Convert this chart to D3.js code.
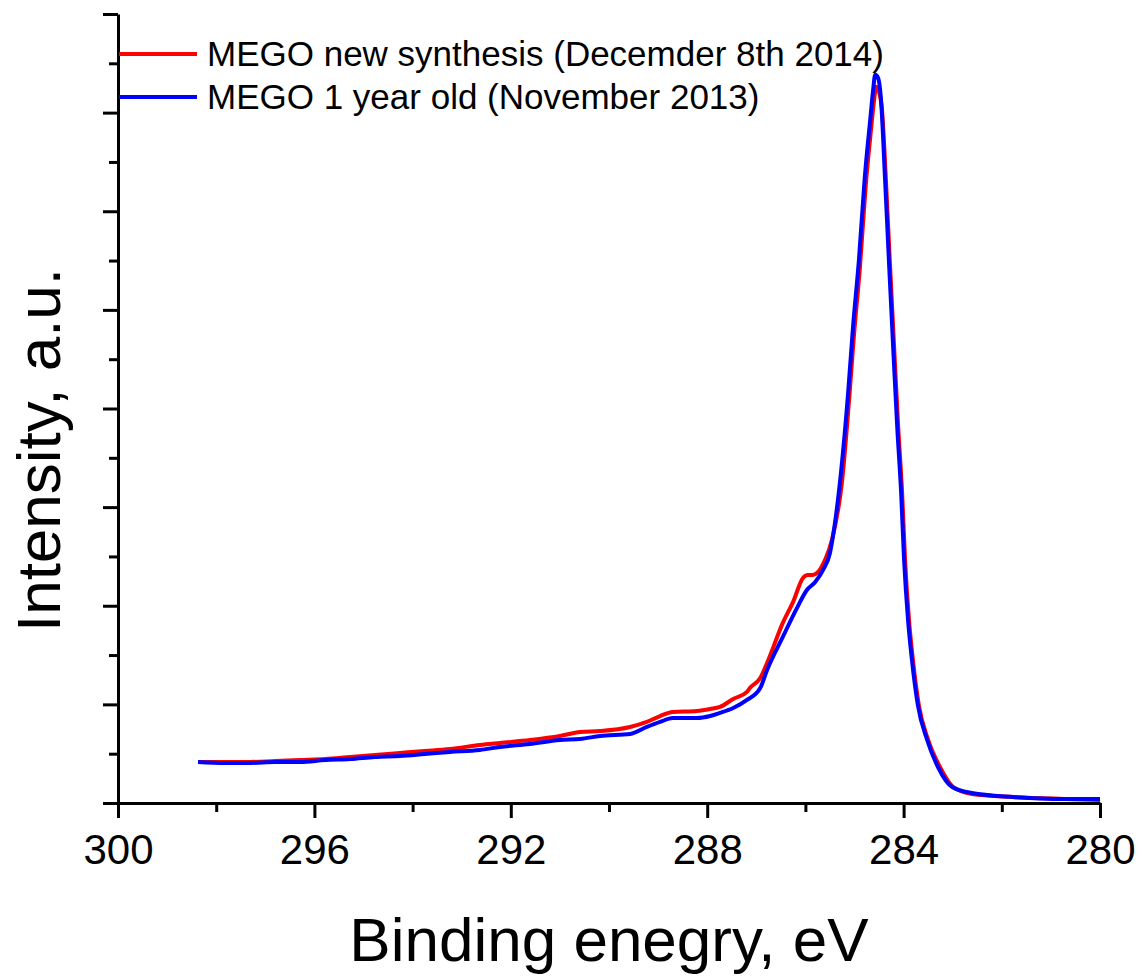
<!DOCTYPE html>
<html>
<head>
<meta charset="utf-8">
<script src="https://cdn.jsdelivr.net/npm/d3@7"></script>
<style>
  body { margin: 0; background: #fff; }
  svg { display: block; font-family: "Liberation Sans", Arial, sans-serif; }
</style>
</head>
<body>
<svg id="xps" width="1143" height="976"></svg>
<script>
// binding energy (eV) and intensity (a.u.)
let energyNew = [298.37, 297.82, 297.31, 296.80, 296.29, 295.78, 295.27, 294.77, 294.26, 293.75,
    293.24, 292.63, 292.22, 291.61, 291.00, 290.59, 290.18, 289.57, 289.23, 288.96,
    288.70, 288.21, 287.94, 287.74, 287.47, 287.19, 287.13, 286.92, 286.78, 286.46,
    286.25, 286.05, 285.95, 285.85, 285.74, 285.60, 285.46, 285.25, 285.11, 285.01,
    284.89, 284.77, 284.66, 284.60, 284.56, 284.50, 284.44, 284.36, 284.28, 284.18,
    284.11, 284.03, 283.97, 283.89, 283.81, 283.69, 283.50, 283.26, 282.99, 282.61,
    281.77, 280.73, 280.00];
let intensityNew = [0.416, 0.416, 0.416, 0.426, 0.436, 0.446, 0.467, 0.487, 0.507, 0.527,
    0.548, 0.588, 0.609, 0.639, 0.680, 0.720, 0.730, 0.771, 0.822, 0.882,
    0.923, 0.933, 0.953, 0.974, 1.055, 1.126, 1.166, 1.268, 1.420, 1.826,
    2.039, 2.282, 2.312, 2.312, 2.343, 2.465, 2.667, 3.276, 4.087, 4.746,
    5.426, 6.268, 6.846, 7.130, 7.262, 7.211, 7.028, 6.318, 5.487, 4.493,
    3.813, 3.144, 2.465, 1.856, 1.450, 0.994, 0.639, 0.365, 0.162, 0.091,
    0.061, 0.041, 0.030];

let energyOld = [298.37, 297.82, 297.31, 296.80, 296.29, 295.78, 295.27, 294.77, 294.26, 293.75,
    293.24, 292.63, 292.22, 291.61, 291.00, 290.59, 290.18, 289.57, 289.23, 288.96,
    288.70, 288.21, 287.94, 287.74, 287.47, 287.19, 286.92, 286.78, 286.46, 286.17,
    285.97, 285.80, 285.64, 285.50, 285.44, 285.27, 285.13, 285.03, 284.91, 284.79,
    284.68, 284.62, 284.58, 284.52, 284.46, 284.38, 284.30, 284.20, 284.13, 284.05,
    283.99, 283.91, 283.83, 283.71, 283.52, 283.30, 283.01, 282.61, 281.77, 280.73,
    280.00];
let intensityOld = [0.416, 0.406, 0.406, 0.416, 0.416, 0.436, 0.446, 0.467, 0.477, 0.497,
    0.517, 0.538, 0.568, 0.598, 0.639, 0.649, 0.680, 0.700, 0.771, 0.822,
    0.862, 0.862, 0.882, 0.913, 0.963, 1.045, 1.166, 1.349, 1.684, 1.978,
    2.160, 2.241, 2.363, 2.535, 2.700, 3.377, 4.158, 4.828, 5.507, 6.349,
    6.927, 7.231, 7.383, 7.353, 7.130, 6.349, 5.507, 4.493, 3.813, 3.144,
    2.465, 1.856, 1.450, 0.994, 0.639, 0.365, 0.162, 0.101, 0.061, 0.041,
    0.041];

let xMajor = [300, 296, 292, 288, 284, 280];
let xMinor = [298, 294, 290, 286, 282];
let yMajor = [0, 1, 2, 3, 4, 5, 6, 7, 8];
let yMinor = [0.5, 1.5, 2.5, 3.5, 4.5, 5.5, 6.5, 7.5];

let seriesNames = ["MEGO new synthesis (Decemder 8th 2014)", "MEGO 1 year old (November 2013)"];
let seriesColors = ["#ff0000", "#0000ff"];

let svg = d3.select("#xps");
let plotLeft = 118, plotRight = 1100, plotTop = 14, plotBottom = 803;

let xScale = d3.scaleLinear().domain([300, 280]).range([plotLeft, plotRight]);
let yScale = d3.scaleLinear().domain([0, 8]).range([plotBottom, plotTop]);

// minor ticks first, then the major ones with labels
svg.append("g")
    .attr("transform", "translate(0," + plotBottom + ")")
    .call(d3.axisBottom(xScale).tickValues(xMinor).tickSize(9).tickSizeOuter(0).tickFormat(""))
    .call(g => g.select(".domain").remove());

let xAxis = svg.append("g")
    .attr("transform", "translate(0," + plotBottom + ")")
    .call(d3.axisBottom(xScale).tickValues(xMajor).tickSize(15).tickSizeOuter(0).tickPadding(16));
xAxis.selectAll("text")
    .attr("font-size", "42px")
    .attr("font-family", "Liberation Sans, Arial, sans-serif")
    .attr("fill", "#000");

svg.append("g")
    .attr("transform", "translate(" + plotLeft + ",0)")
    .call(d3.axisLeft(yScale).tickValues(yMinor).tickSize(9).tickSizeOuter(0).tickFormat(""))
    .call(g => g.select(".domain").remove());

svg.append("g")
    .attr("transform", "translate(" + plotLeft + ",0)")
    .call(d3.axisLeft(yScale).tickValues(yMajor).tickSize(15).tickSizeOuter(0).tickFormat(""));

svg.selectAll(".domain, .tick line")
    .attr("stroke", "#000")
    .attr("stroke-width", 3);

// curves
let lineMaker = d3.line()
    .curve(d3.curveMonotoneX)
    .x(d => xScale(d[0]))
    .y(d => yScale(d[1]));

let newData = energyNew.map((e, i) => [e, intensityNew[i]]);
let oldData = energyOld.map((e, i) => [e, intensityOld[i]]);

svg.append("path")
    .attr("fill", "none")
    .attr("stroke", seriesColors[0])
    .attr("stroke-width", 4)
    .attr("stroke-linejoin", "round")
    .attr("d", lineMaker(newData));

svg.append("path")
    .attr("fill", "none")
    .attr("stroke", seriesColors[1])
    .attr("stroke-width", 4)
    .attr("stroke-linejoin", "round")
    .attr("d", lineMaker(oldData));

// legend
let legend = svg.append("g");
seriesNames.forEach((name, i) => {
    let y = 54 + i * 43;
    legend.append("line")
        .attr("x1", 119).attr("x2", 197)
        .attr("y1", y).attr("y2", y)
        .attr("stroke", seriesColors[i])
        .attr("stroke-width", 4);
    legend.append("text")
        .attr("x", 207)
        .attr("y", y + 12)
        .attr("font-size", "35px")
        .attr("fill", "#000")
        .text(name);
});

// axis titles
svg.append("text")
    .attr("x", (plotLeft + plotRight) / 2)
    .attr("y", 961)
    .attr("text-anchor", "middle")
    .attr("font-size", "62px")
    .attr("fill", "#000")
    .text("Binding enegry, eV");

svg.append("text")
    .attr("transform", "translate(60," + 450 + ") rotate(-90)")
    .attr("text-anchor", "middle")
    .attr("font-size", "62px")
    .attr("fill", "#000")
    .text("Intensity, a.u.");
</script>
</body>
</html>
